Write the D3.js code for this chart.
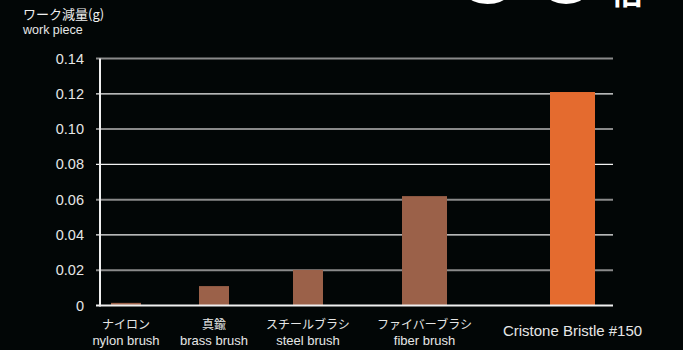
<!DOCTYPE html>
<html>
<head>
<meta charset="utf-8">
<script src="https://cdn.jsdelivr.net/npm/d3@7"></script>
<style>
  body { margin: 0; background: #020606; }
  svg { display: block; font-family: "Noto Sans CJK JP", "Noto Sans", sans-serif; }
</style>
</head>
<body>
<svg id="chart" width="683" height="350"></svg>
<script>
const labelsJa = ["ナイロン", "真鍮", "スチールブラシ", "ファイバーブラシ", ""];
const labelsEn = ["nylon brush", "brass brush", "steel brush", "fiber brush", "Cristone Bristle #150"];
const values = [0.0015, 0.011, 0.0202, 0.062, 0.121];
const yTicks = [0, 0.02, 0.04, 0.06, 0.08, 0.10, 0.12, 0.14];

const svg = d3.select("#chart");
const plotTop = 58.5, plotBottom = 305.5, plotLeft = 100, plotRight = 613;
const latin = "'Liberation Sans', Arial, sans-serif";

const y = d3.scaleLinear().domain([0, 0.14]).range([plotBottom, plotTop]);
// irregular category spacing as in the original artwork
const x = d3.scaleOrdinal().domain(labelsEn).range([126, 214, 308, 424.5, 572.5]);
const w = d3.scaleOrdinal().domain(labelsEn).range([30, 30, 30, 45, 45]);
const color = d3.scaleOrdinal().domain(labelsEn).range(["#9b6149", "#9b6149", "#9b6149", "#9b6149", "#e46b2f"]);

// gridlines, alternating grey / white
svg.append("g").selectAll("line")
  .data(yTicks.slice(1))
  .join("line")
  .attr("x1", plotLeft - 4).attr("x2", plotRight)
  .attr("y1", d => y(d)).attr("y2", d => y(d))
  .attr("stroke", (d, i) => i % 2 === 0 ? "#8a8a8a" : "#f2f2f2")
  .attr("stroke-width", (d, i) => i % 2 === 0 ? 2 : 1.2);

// y axis labels
const yAxis = d3.axisLeft(y).tickValues(yTicks).tickSize(0).tickPadding(16)
  .tickFormat(d => d === 0 ? "0" : d3.format(".2f")(d));
svg.append("g").attr("transform", `translate(${plotLeft},0)`).call(yAxis)
  .call(g => g.select(".domain").remove())
  .call(g => g.selectAll("text").attr("fill", "#e6e6e6").attr("font-size", 14.5)
    .attr("font-family", latin));

// bars
svg.append("g").selectAll("rect")
  .data(values)
  .join("rect")
  .attr("x", (d, i) => x(labelsEn[i]) - w(labelsEn[i]) / 2)
  .attr("width", (d, i) => w(labelsEn[i]))
  .attr("y", d => y(d))
  .attr("height", d => y(0) - y(d))
  .attr("fill", (d, i) => color(labelsEn[i]));

// axis lines
svg.append("line").attr("x1", plotLeft).attr("x2", plotLeft).attr("y1", plotTop).attr("y2", plotBottom + 1)
  .attr("stroke", "#f0f0f0").attr("stroke-width", 2);
svg.append("line").attr("x1", plotLeft - 4).attr("x2", plotRight).attr("y1", plotBottom).attr("y2", plotBottom)
  .attr("stroke", "#f0f0f0").attr("stroke-width", 2);

// category labels
const cat = svg.append("g").attr("fill", "#e6e6e6").attr("text-anchor", "middle");
cat.selectAll(".ja").data(labelsJa).join("text")
  .attr("font-size", 12)
  .attr("x", (d, i) => x(labelsEn[i])).attr("y", 329).text(d => d);
cat.selectAll(".en").data(labelsEn).join("text")
  .attr("x", (d, i) => x(labelsEn[i]))
  .attr("y", (d, i) => labelsJa[i] ? 344.5 : 336)
  .attr("font-size", (d, i) => labelsJa[i] ? 13 : 15)
  .attr("font-family", latin)
  .text(d => d);

// titles
svg.append("text").attr("x", 23).attr("y", 19).attr("fill", "#f0f0f0").attr("font-size", 13).text("ワーク減量(g)");
svg.append("text").attr("x", 23).attr("y", 34).attr("fill", "#e6e6e6").attr("font-size", 12.5)
  .attr("font-family", latin).text("work piece");

// large headline, mostly cut off at the top
svg.append("text").attr("x", 450).attr("y", 3).attr("fill", "#fff").attr("font-size", 130)
  .attr("letter-spacing", 8).attr("font-weight", "bold").attr("font-family", latin).text("60");
svg.append("text").attr("x", 611).attr("y", 4).attr("fill", "#fff").attr("font-size", 32)
  .attr("font-weight", "bold").text("倍");
</script>
</body>
</html>
